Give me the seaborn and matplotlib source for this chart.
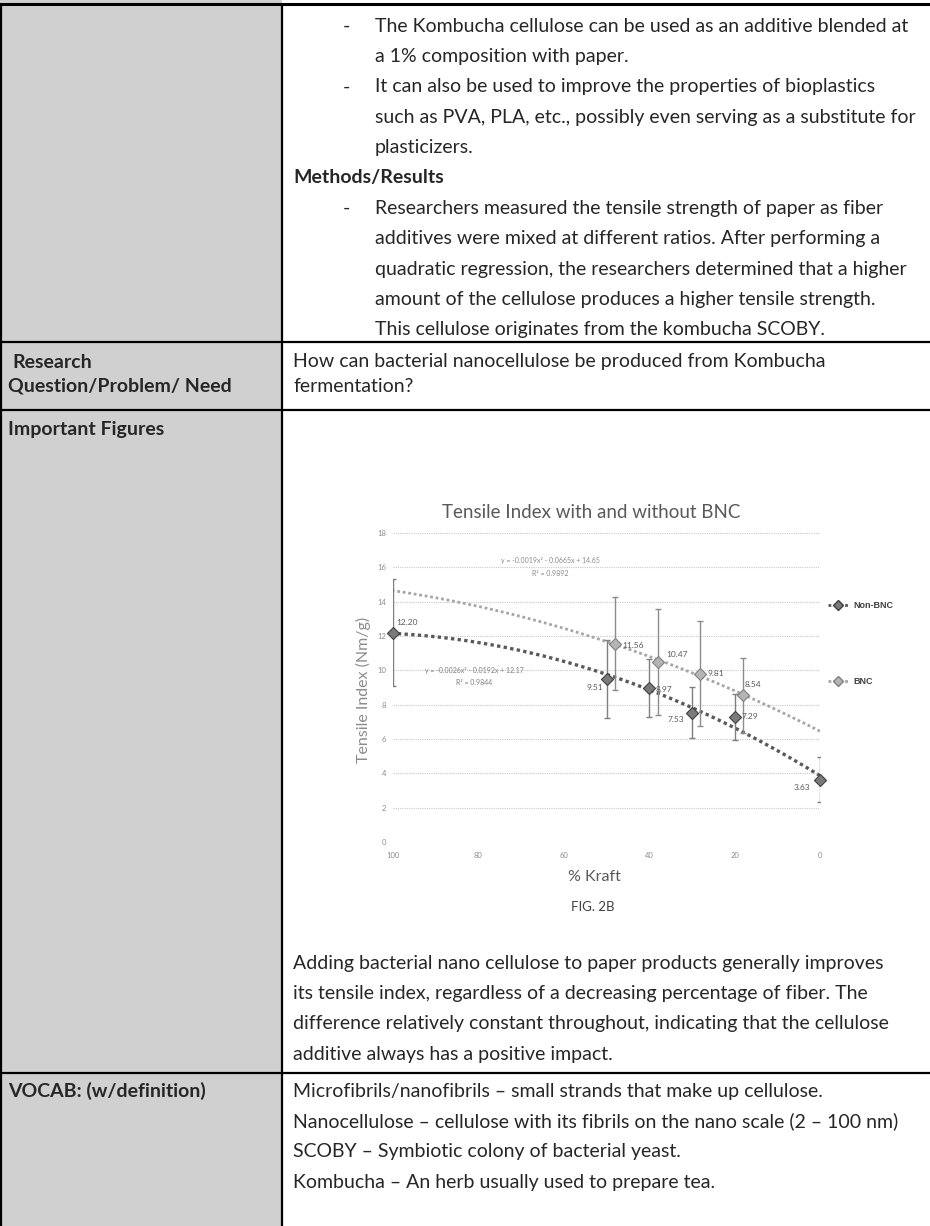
import numpy as np
import matplotlib
matplotlib.use("Agg")
import matplotlib.pyplot as plt
from matplotlib.patches import Rectangle
from matplotlib.lines import Line2D
import seaborn as sns

# ---------------- data ----------------
kraft_non = [100, 50, 40, 30, 20, 0]
tensile_non = [12.20, 9.51, 8.97, 7.53, 7.29, 3.63]
err_non = [3.1, 2.27, 1.69, 1.5, 1.35, 1.3]

kraft_bnc = [48, 38, 28, 18]
tensile_bnc = [11.56, 10.47, 9.81, 8.54]
err_bnc = [2.7, 3.1, 3.05, 2.17]

eq_bnc = ["y = -0.0019x\u00b2 - 0.0665x + 14.65", "R\u00b2 = 0.9892"]
eq_non = ["y = -0.0026x\u00b2 - 0.0192x + 12.17", "R\u00b2 = 0.9844"]

x_ticks = [100, 80, 60, 40, 20, 0]
y_ticks = [0, 2, 4, 6, 8, 10, 12, 14, 16, 18]
series_names = ["Non-BNC", "BNC"]

# label offsets (pixels) for data labels
off_non = [(14, -10), (-12, 9), (15, 1), (-16, 7), (15, 0), (-18, 8)]
off_bnc = [(18, 2), (19, -8), (15, 0), (10, -11)]

# ---------------- text ----------------
top_lines = [
    ("-", "The Kombucha cellulose can be used as an additive blended at"),
    ("", "a 1% composition with paper."),
    ("-", "It can also be used to improve the properties of bioplastics"),
    ("", "such as PVA, PLA, etc., possibly even serving as a substitute for"),
    ("", "plasticizers."),
    ("H", "Methods/Results"),
    ("-", "Researchers measured the tensile strength of paper as fiber"),
    ("", "additives were mixed at different ratios. After performing a"),
    ("", "quadratic regression, the researchers determined that a higher"),
    ("", "amount of the cellulose produces a higher tensile strength."),
    ("", "This cellulose originates from the kombucha SCOBY."),
]
para_lines = [
    "Adding bacterial nano cellulose to paper products generally improves",
    "its tensile index, regardless of a decreasing percentage of fiber. The",
    "difference relatively constant throughout, indicating that the cellulose",
    "additive always has a positive impact.",
]
vocab_lines = [
    "Microfibrils/nanofibrils \u2013 small strands that make up cellulose.",
    "Nanocellulose \u2013 cellulose with its fibrils on the nano scale (2 \u2013 100 nm)",
    "SCOBY \u2013 Symbiotic colony of bacterial yeast.",
    "Kombucha \u2013 An herb usually used to prepare tea.",
]

sns.set_style("white")
plt.rcParams['font.family'] = ['Lato', 'DejaVu Sans']

W, H = 930, 1226
fig = plt.figure(figsize=(W / 100, H / 100), dpi=100)
bg = fig.add_axes([0, 0, 1, 1])
bg.set_xlim(0, W)
bg.set_ylim(H, 0)
bg.axis('off')

FS = 14
LS = 30.4
# table
bg.add_patch(Rectangle((0, 0), 282, H, facecolor='#d0d0d0', edgecolor='none'))
lw = 1.6
bg.plot([0, W], [4, 4], color='black', lw=2.2)
bg.plot([1, 1], [4, H], color='black', lw=lw)
bg.plot([282, 282], [4, H], color='black', lw=lw)
for yy in [342, 410, 1073]:
    bg.plot([0, W], [yy, yy], color='black', lw=lw)

for i, (dash, txt) in enumerate(top_lines):
    yy = 26 + i * LS
    if dash == "H":
        bg.text(293, yy, txt, fontsize=FS, va='center', fontweight='bold')
        continue
    if dash:
        bg.text(343, yy, dash, fontsize=FS, va='center')
    bg.text(375, yy, txt, fontsize=FS, va='center')

bg.text(12, 362, "Research", fontsize=FS, va='center', fontweight='bold')
bg.text(8, 386, "Question/Problem/ Need", fontsize=FS, va='center', fontweight='bold')
bg.text(293, 362, "How can bacterial nanocellulose be produced from Kombucha", fontsize=FS, va='center')
bg.text(293, 386, "fermentation?", fontsize=FS, va='center')
bg.text(8, 430, "Important Figures", fontsize=FS, va='center', fontweight='bold')

for i, t in enumerate(para_lines):
    bg.text(293, 963 + i * LS, t, fontsize=FS, va='center')
bg.text(8, 1091, "VOCAB: (w/definition)", fontsize=FS, va='center', fontweight='bold')
for i, t in enumerate(vocab_lines):
    bg.text(293, 1091 + i * LS, t, fontsize=FS, va='center')

# chart texts
bg.text(591, 513, "Tensile Index with and without BNC", fontsize=13.5, color='#595959',
        ha='center', va='center')
bg.text(363, 690, "Tensile Index (Nm/g)", fontsize=11.5, color='#8c8c8c',
        ha='center', va='center', rotation=90)
bg.text(594, 877, "% Kraft", fontsize=11.5, color='#595959', ha='center', va='center')
bg.text(593, 907, "FIG. 2B", fontsize=9.5, color='#404040', ha='center', va='center')

# ---------------- chart ----------------
x0, x1, y0, y1 = 393, 820, 533, 842
ax = fig.add_axes([x0 / W, 1 - y1 / H, (x1 - x0) / W, (y1 - y0) / H])
ax.set_xlim(100, 0)
ax.set_ylim(0, 18)
for s in ax.spines.values():
    s.set_visible(False)
ax.set_xticks(x_ticks)
ax.set_yticks(y_ticks)
ax.set_xticklabels([str(v) for v in x_ticks])
ax.set_yticklabels([str(v) for v in y_ticks])
ax.tick_params(axis='both', length=0, labelsize=5.5, labelcolor='#8c8c8c')
ax.tick_params(axis='x', pad=7)
ax.tick_params(axis='y', pad=5)
ax.grid(axis='y', color='#c8c8c8', linestyle=(0, (1, 1)), lw=0.8)
ax.set_facecolor('none')

col_non = '#595959'
col_bnc = '#a6a6a6'
xs = np.linspace(0, 100, 200)
fit_non = np.polyval(np.polyfit(kraft_non, tensile_non, 2), xs)
fit_bnc = np.polyval(np.polyfit(kraft_bnc, tensile_bnc, 2), xs)
sns.lineplot(x=xs, y=fit_bnc, ax=ax, color=col_bnc, lw=2.0, linestyle=(0, (1, 1)))
sns.lineplot(x=xs, y=fit_non, ax=ax, color=col_non, lw=2.4, linestyle=(0, (1, 1)))

ax.errorbar(kraft_non, tensile_non, yerr=err_non, fmt='none', ecolor='#7f7f7f',
            elinewidth=1, capsize=2.5, capthick=1)
ax.errorbar(kraft_bnc, tensile_bnc, yerr=err_bnc, fmt='none', ecolor='#8c8c8c',
            elinewidth=1, capsize=2.5, capthick=1)
sns.scatterplot(x=kraft_non, y=tensile_non, ax=ax, marker='D', s=38, color='#7a7a7a',
                edgecolor='#404040', linewidth=0.8, zorder=5, clip_on=False)
sns.scatterplot(x=kraft_bnc, y=tensile_bnc, ax=ax, marker='D', s=38, color='#b5b5b5',
                edgecolor='#7f7f7f', linewidth=0.8, zorder=5, clip_on=False)

for xv, yv, (dx, dy) in zip(kraft_non, tensile_non, off_non):
    ax.annotate(f"{yv:.2f}", (xv, yv), xytext=(dx * 0.72, -dy * 0.72), textcoords='offset points',
                ha='center', va='center', fontsize=6, color='#595959')
for xv, yv, (dx, dy) in zip(kraft_bnc, tensile_bnc, off_bnc):
    ax.annotate(f"{yv:.2f}", (xv, yv), xytext=(dx * 0.72, -dy * 0.72), textcoords='offset points',
                ha='center', va='center', fontsize=6, color='#595959')

ax.text(63.2, 16.4, eq_bnc[0], fontsize=5, color='#8c8c8c', ha='center', va='center')
ax.text(63.2, 15.65, eq_bnc[1], fontsize=5, color='#8c8c8c', ha='center', va='center')
ax.text(81, 10.0, eq_non[0], fontsize=5, color='#7f7f7f', ha='center', va='center')
ax.text(81, 9.3, eq_non[1], fontsize=5, color='#7f7f7f', ha='center', va='center')

handles = [
    Line2D([], [], color=col_non, linestyle=(0, (1, 1)), lw=2, marker='D', markersize=5,
           markerfacecolor='#7a7a7a', markeredgecolor='#404040'),
    Line2D([], [], color=col_bnc, linestyle=(0, (1, 1)), lw=2, marker='D', markersize=5,
           markerfacecolor='#b5b5b5', markeredgecolor='#7f7f7f'),
]
leg = ax.legend(handles, series_names, loc='upper left', bbox_to_anchor=(1.0, 0.805),
                frameon=False, labelspacing=7.4, handlelength=2.2, handletextpad=0.6,
                prop={'family': ['Liberation Sans'], 'weight': 'bold', 'size': 6.5})
for t in leg.get_texts():
    t.set_color('#404040')

fig.savefig("out.png", dpi=100)
